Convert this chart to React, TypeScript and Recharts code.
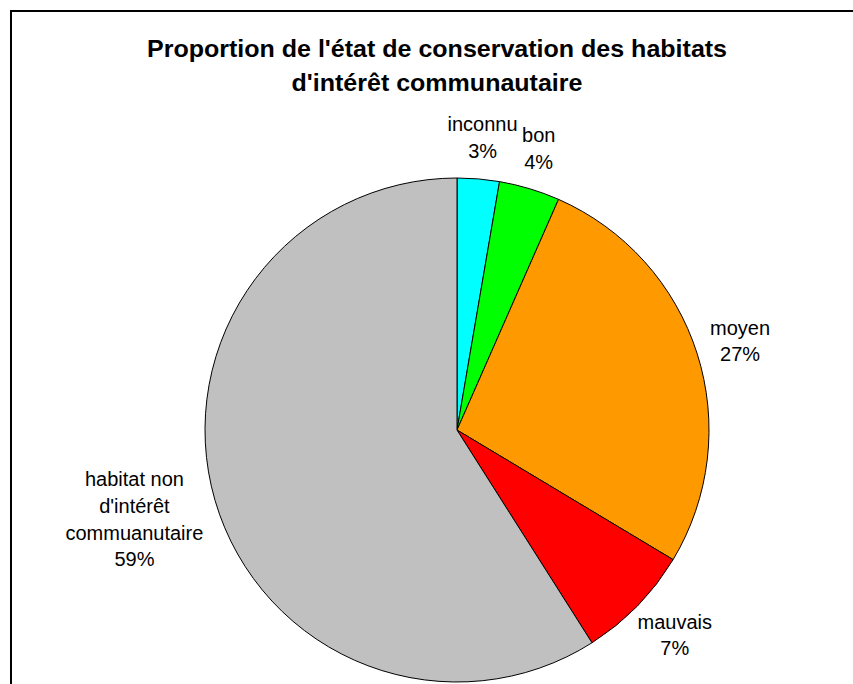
import React from "react";
import { PieChart, Pie, Cell } from "recharts";

const categories = ["inconnu", "bon", "moyen", "mauvais", "habitat non\nd'intérêt\ncommuanutaire"];
const values = [2.7, 3.9, 27.0, 7.4, 59.0];
const colors = ["#00FFFF", "#00FF00", "#FF9900", "#FF0000", "#C0C0C0"];
const titleLines = ["Proportion de l'état de conservation des habitats", "d'intérêt communautaire"];

const data = categories.map((name, i) => ({ name, value: values[i] }));
const total = values.reduce((a, b) => a + b, 0);

const FONT = "'Liberation Sans', Arial, sans-serif";
const LABEL_FS = 20;
const LINE_H = 26.7;
const GAP = 15;

let ctx: CanvasRenderingContext2D | null = null;
function measure(text: string): number {
  if (!ctx) {
    const c = document.createElement("canvas");
    ctx = c.getContext("2d");
  }
  if (!ctx) return text.length * LABEL_FS * 0.5;
  ctx.font = `${LABEL_FS}px 'Liberation Sans', Arial, sans-serif`;
  return ctx.measureText(text).width;
}

function renderLabel(props: any) {
  const { cx, cy, midAngle, outerRadius, index } = props;
  const pct = Math.round((values[index] / total) * 100);
  const lines = [...categories[index].split("\n"), `${pct}%`];
  const halfW = Math.max(...lines.map(measure)) / 2;
  const halfH = (lines.length * LINE_H) / 2;
  const rad = (-midAngle * Math.PI) / 180;
  const dx = Math.cos(rad);
  const dy = Math.sin(rad);
  const r = outerRadius + GAP;
  const x = cx + r * dx + halfW * dx;
  const y = cy + r * dy + halfH * dy;
  const top = y - halfH;
  return (
    <g key={`lbl-${index}`}>
      {lines.map((ln, i) => (
        <text
          key={i}
          x={x}
          y={top + LINE_H * (i + 0.5)}
          textAnchor="middle"
          dominantBaseline="central"
          fontFamily={FONT}
          fontSize={LABEL_FS}
          fill="#000"
        >
          {ln}
        </text>
      ))}
    </g>
  );
}

export default function App() {
  return (
    <div
      style={{
        position: "fixed",
        left: 0,
        top: 0,
        width: 853,
        height: 684,
        overflow: "hidden",
        background: "#fff",
      }}
    >
      <div
        style={{
          position: "absolute",
          left: 10,
          top: 10,
          width: 900,
          height: 800,
          border: "2px solid #000",
          boxSizing: "border-box",
        }}
      />
      <svg
        width={853}
        height={120}
        style={{ position: "absolute", left: 0, top: 0 }}
      >
        <g transform="translate(437,0) scale(1.065,1)">
          <text
            x={0}
            y={57}
            textAnchor="middle"
            fontFamily={FONT}
            fontWeight="bold"
            fontSize={23.5}
            fill="#000"
          >
            {titleLines[0]}
          </text>
          <text
            x={0}
            y={91}
            textAnchor="middle"
            fontFamily={FONT}
            fontWeight="bold"
            fontSize={23.5}
            fill="#000"
          >
            {titleLines[1]}
          </text>
        </g>
      </svg>
      <div style={{ position: "absolute", left: 0, top: 0 }}>
        <PieChart width={853} height={684} margin={{ top: 0, right: 0, bottom: 0, left: 0 }}>
          <Pie
            data={data}
            dataKey="value"
            nameKey="name"
            cx={457}
            cy={430}
            outerRadius={252}
            innerRadius={0}
            startAngle={90}
            endAngle={-270}
            stroke="#000"
            strokeWidth={1}
            label={renderLabel}
            labelLine={false}
            isAnimationActive={false}
          >
            {data.map((d, i) => (
              <Cell key={d.name} fill={colors[i]} stroke="#000" strokeWidth={1} />
            ))}
          </Pie>
        </PieChart>
      </div>
    </div>
  );
}
